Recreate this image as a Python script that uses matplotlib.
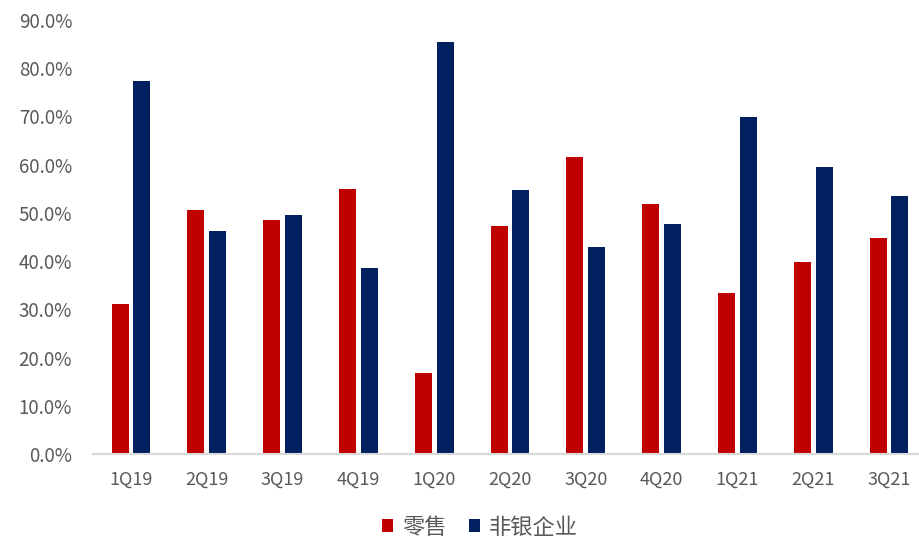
import matplotlib
matplotlib.use("Agg")
import matplotlib.pyplot as plt
import numpy as np
from matplotlib.ticker import FuncFormatter

plt.rcParams['font.family'] = ['Noto Sans CJK SC', 'DejaVu Sans']

categories = ["1Q19", "2Q19", "3Q19", "4Q19", "1Q20", "2Q20", "3Q20", "4Q20", "1Q21", "2Q21", "3Q21"]
retail = [31.1, 50.6, 48.5, 54.9, 16.9, 47.2, 61.6, 51.9, 33.3, 39.8, 44.7]
nonbank = [77.4, 46.2, 49.6, 38.6, 85.4, 54.8, 42.9, 47.7, 69.9, 59.5, 53.5]
series_names = ["零售", "非银企业"]
yticks = [0, 10, 20, 30, 40, 50, 60, 70, 80, 90]

W, H = 919, 542
fig = plt.figure(figsize=(W / 100, H / 100), dpi=100)
left, right, top, bottom = 93, 927, 20, 454
ax = fig.add_axes([left / W, 1 - bottom / H, (right - left) / W, (bottom - top) / H])

x = np.arange(len(categories))
w = 0.224
off = 0.143
ax.bar(x - off, retail, width=w, color="#C00000", label=series_names[0])
ax.bar(x + off, nonbank, width=w, color="#002060", label=series_names[1])

ax.set_xlim(-0.5, len(categories) - 0.5)
ax.set_ylim(0, 90)
ax.set_yticks(yticks)
ax.yaxis.set_major_formatter(FuncFormatter(lambda v, p: f"{v:.1f}%"))
ax.set_xticks(x)
ax.set_xticklabels(categories)

for s in ["top", "right", "left"]:
    ax.spines[s].set_visible(False)
ax.spines["bottom"].set_color("#D9D9D9")
ax.spines["bottom"].set_linewidth(1.5)

ax.tick_params(axis="y", length=0, pad=15, labelsize=13.5, labelcolor="#595959")
ax.tick_params(axis="x", length=0, pad=12, labelsize=13, labelcolor="#595959")

leg = fig.legend(loc="center", bbox_to_anchor=(480 / W, 1 - 527 / H), ncol=2, frameon=False,
                 handlelength=0.5, handleheight=0.5, handletextpad=0.4, columnspacing=1.0,
                 fontsize=16)
for t in leg.get_texts():
    t.set_color("#595959")

fig.savefig("out.png", dpi=100)
